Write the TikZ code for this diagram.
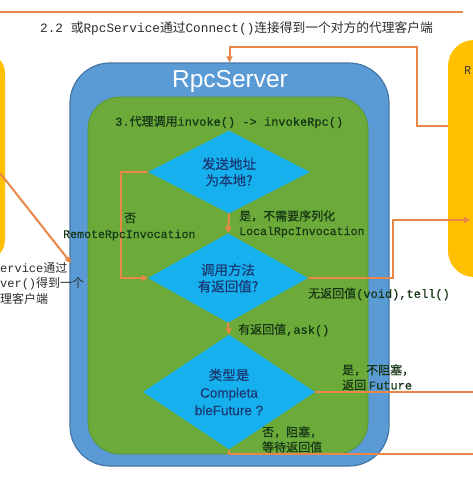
\documentclass[tikz,border=0pt]{standalone}
\usepackage{fontspec}
\setmainfont{Noto Sans CJK SC}
\newfontfamily\cjkh{Noto Sans CJK SC}[FakeBold=0.6]
\newfontfamily\monof{Liberation Mono}
\newfontfamily\monoh{Liberation Mono}[FakeBold=0.4]
\newfontfamily\arialf{Liberation Sans}
\newfontfamily\arialh{Liberation Sans}[FakeBold=0.5]
\usetikzlibrary{shapes.geometric,arrows.meta}
\definecolor{blueout}{RGB}{91,155,213}
\definecolor{blueedge}{RGB}{70,118,165}
\definecolor{greenin}{RGB}{108,170,58}
\definecolor{greenedge}{RGB}{90,150,50}
\definecolor{cyanfill}{RGB}{22,176,238}
\definecolor{dtext}{RGB}{25,58,115}
\definecolor{ltext}{RGB}{22,55,22}
\definecolor{orangeln}{RGB}{232,135,72}
\definecolor{yellowbox}{RGB}{255,192,0}
\definecolor{graytext}{RGB}{45,45,45}
\newcommand{\M}[1]{{\monof #1}}
\newcommand{\MH}[1]{{\monoh #1}}
\begin{document}
\begin{tikzpicture}[x=1pt,y=-1pt,
  conn/.style={draw=orangeln, line width=2pt},
  arr/.style={conn, -{Triangle[length=6pt,width=6pt]}},
  decision/.style={diamond, fill=cyanfill, inner sep=0pt, align=center, text=dtext, font=\cjkh\fontsize{13.5}{16.5}\selectfont},
  lbl/.style={anchor=west, text=ltext, font=\cjkh\fontsize{12}{15}\selectfont, inner sep=0pt, align=left},
  monolbl/.style={lbl, font=\monoh\fontsize{11.6}{14}\selectfont},
  client/.style={fill=yellowbox, draw=none, inner sep=0pt}]
\useasboundingbox (0,0) rectangle (473,477);
\fill[white] (0,0) rectangle (473,477);

% top line and heading
\draw[orangeln, line width=1.5pt] (0,12) -- (463,12);
\node[anchor=west, inner sep=0pt, text=graytext, font=\fontsize{12.75}{15}\selectfont] (t22) at (40,28)
  {\M{2.2 }或\M{RpcService}通过\M{Connect()}连接得到一个对方的代理客户端};

% client boxes
\node[client, rounded corners=20pt, minimum width=50pt, minimum height=207pt] (lclient) at (-20,156.5) {};
\node[client, rounded corners=26pt, minimum width=64pt, minimum height=237pt] (rclient) at (480,158.5) {};
\node[anchor=west, inner sep=0pt, font=\fontsize{11}{13}\selectfont, text=graytext] (rtxt) at (464,70) {R};

% server boxes
\node[fill=blueout, draw=blueedge, line width=1.2pt, rounded corners=40pt, minimum width=319pt, minimum height=403pt, inner sep=0pt] (server) at (229.5,264.5) {};
\node[fill=greenin, draw=greenedge, line width=0.8pt, rounded corners=32pt, minimum width=280pt, minimum height=357pt, inner sep=0pt] (inner) at (228,275.5) {};
\node[text=white, font=\arialf\fontsize{24.5}{28}\selectfont, inner sep=0pt] (title) at (230,81) {RpcServer};
\node[anchor=west, inner sep=0pt, text=ltext, font=\cjkh\fontsize{12}{15}\selectfont] (step3) at (115,122)
  {\MH{3.}代理调用\MH{invoke() -> invokeRpc()}};

% decisions
\node[decision, minimum width=162pt, minimum height=74pt] (d1) at (229,172) {发送地址\\为本地?};
\node[decision, minimum width=160pt, minimum height=75pt] (d2) at (228,278) {调用方法\\有返回值?};
\node[decision, minimum width=172pt, minimum height=75pt, font=\cjkh\fontsize{13.5}{17.5}\selectfont] (d3) at (229,392)
  {类型是\\{\arialh Completa}\\{\arialh bleFuture ?}};

% coordinates for free ends
\coordinate (lstart) at (0,173);
\coordinate (lend) at (71,263);
\coordinate (tellpt) at (470,220);
\coordinate (out1) at (473,392);
\coordinate (out2) at (473,454);

% connectors
\draw[arr] ([yshift=32.5pt]rclient.west) -| (417,47) -| (server.north);
\draw[arr] (lstart) -- (lend);
\draw[arr] (d1.south) -- (d2.north);
\draw[arr] (d1.west) -- ++(-27,0) |- (d2.west);
\draw[arr] (d2.east) -- (393,278) -- (393,220) -- (tellpt);
\draw[arr] (d2.south) -- (d3.north);
\draw[conn] (d3.east) -- (out1);
\draw[conn] (d3.south) -- (229,454) -- (out2);

% labels
\node[lbl] (l1a) at (239,216) {是，不需要序列化};
\node[monolbl] (l1b) at (239,232) {LocalRpcInvocation};
\node[lbl] (l2a) at (124,218) {否};
\node[monolbl] (l2b) at (63,235) {RemoteRpcInvocation};
\node[lbl] (l3) at (308,294) {无返回值\MH{(void),tell()}};
\node[lbl] (l4) at (238,330) {有返回值\MH{,ask()}};
\node[lbl] (l5a) at (342,370) {是，不阻塞，};
\node[lbl] (l5b) at (342,385) {返回 \MH{Future}};
\node[lbl] (l6a) at (262,432) {否，阻塞，};
\node[lbl] (l6b) at (262,447) {等待返回值};

% left partial text
\node[anchor=west, inner sep=0pt, text=graytext, font=\fontsize{12}{15}\selectfont] (lt1) at (0,268) {\M{ervice}通过};
\node[anchor=west, inner sep=0pt, text=graytext, font=\fontsize{12}{15}\selectfont] (lt2) at (0,284) {\M{ver()}得到一个};
\node[anchor=west, inner sep=0pt, text=graytext, font=\fontsize{12}{15}\selectfont] (lt3) at (0,299) {理客户端};
\end{tikzpicture}
\end{document}
